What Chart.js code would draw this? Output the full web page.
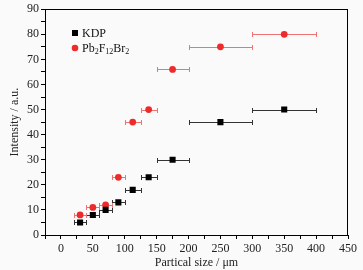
<!DOCTYPE html>
<html>
<head>
<meta charset="utf-8">
<script src="https://cdn.jsdelivr.net/npm/chart.js@4"></script>
<style>
  html, body { margin: 0; padding: 0; background: #fafafa; }
  #wrap { width: 363px; height: 270px; }
</style>
</head>
<body>
<div id="wrap"><canvas id="chart" width="363" height="270"></canvas></div>
<script>
// datos
var kdpX = [30, 50, 70, 90, 112.5, 137.5, 175, 250, 350];
var kdpY = [5, 8, 10, 13, 18, 23, 30, 45, 50];
var pbX = [30, 50, 70, 90, 112.5, 137.5, 175, 250, 350];
var pbY = [8, 11, 12, 23, 45, 50, 66, 75, 80];
var errMin = [20, 40, 60, 80, 100, 125, 150, 200, 300];
var errMax = [40, 60, 80, 100, 125, 150, 200, 300, 400];

var serif = "'Liberation Serif', 'DejaVu Serif', serif";

function puntos(xs, ys) {
    return xs.map(function (x, i) {
        return { x: x, y: ys[i], xMin: errMin[i], xMax: errMax[i] };
    });
}

var fondo = {
    id: 'fondo',
    beforeDraw: function (chart) {
        var ctx = chart.ctx;
        ctx.save();
        ctx.fillStyle = '#fafafa';
        ctx.fillRect(0, 0, chart.width, chart.height);
        ctx.restore();
    }
};

var barras = {
    id: 'barras',
    beforeDatasetsDraw: function (chart) {
        var ctx = chart.ctx;
        var xs = chart.scales.x, ys = chart.scales.y;
        ctx.save();
        chart.data.datasets.forEach(function (ds) {
            ctx.strokeStyle = ds.errorColor;
            ctx.lineWidth = 1;
            ds.data.forEach(function (p) {
                var y = Math.round(ys.getPixelForValue(p.y)) + 0.5;
                var x1 = Math.round(xs.getPixelForValue(p.xMin)) + 0.5;
                var x2 = Math.round(xs.getPixelForValue(p.xMax)) + 0.5;
                ctx.beginPath();
                ctx.moveTo(x1, y); ctx.lineTo(x2, y);
                ctx.moveTo(x1, y - 2.5); ctx.lineTo(x1, y + 2.5);
                ctx.moveTo(x2, y - 2.5); ctx.lineTo(x2, y + 2.5);
                ctx.stroke();
            });
        });
        ctx.restore();
    },
    afterDraw: function (chart) {
        var a = chart.chartArea;
        var ctx = chart.ctx;
        ctx.save();
        ctx.strokeStyle = '#000';
        ctx.lineWidth = 1;
        ctx.strokeRect(Math.round(a.left) + 0.5, Math.round(a.top) + 0.5,
            Math.round(a.right - a.left) - 1, Math.round(a.bottom - a.top));
        ctx.restore();
    }
};

// leyenda con subindices
var leyenda = {
    id: 'leyenda',
    afterDraw: function (chart) {
        var ctx = chart.ctx;
        ctx.save();
        ctx.textBaseline = 'alphabetic';
        ctx.fillStyle = '#000';
        ctx.fillRect(72, 30, 6, 6);
        ctx.font = '12px ' + serif;
        ctx.fillStyle = '#111';
        ctx.fillText('KDP', 82, 37);

        ctx.fillStyle = '#ee2b2b';
        ctx.beginPath();
        ctx.arc(75, 48, 3.3, 0, Math.PI * 2);
        ctx.fill();
        var partes = [['Pb', 0], ['2', 1], ['F', 0], ['12', 1], ['Br', 0], ['2', 1]];
        var x = 82;
        ctx.fillStyle = '#111';
        partes.forEach(function (p) {
            ctx.font = (p[1] ? '8px ' : '12px ') + serif;
            ctx.fillText(p[0], x, p[1] ? 54 : 52);
            x += ctx.measureText(p[0]).width;
        });
        ctx.restore();
    }
};

var canvas = document.getElementById('chart').getContext('2d');
window.grafico = new Chart(canvas, {
    type: 'scatter',
    data: {
        datasets: [{
            label: 'KDP',
            data: puntos(kdpX, kdpY),
            pointStyle: 'rect',
            pointRadius: 4.3,
            pointHoverRadius: 4.3,
            backgroundColor: '#000',
            borderColor: '#000',
            borderWidth: 0,
            errorColor: '#333'
        }, {
            label: 'Pb2F12Br2',
            data: puntos(pbX, pbY),
            pointStyle: 'circle',
            pointRadius: 3.4,
            pointHoverRadius: 3.4,
            backgroundColor: '#ee2b2b',
            borderColor: '#ee2b2b',
            borderWidth: 0,
            errorColor: '#f07272'
        }]
    },
    plugins: [fondo, barras, leyenda],
    options: {
        responsive: false,
        animation: false,
        layout: { padding: { left: 0, right: 15, top: 9, bottom: 0 } },
        plugins: {
            legend: { display: false },
            tooltip: { enabled: false }
        },
        scales: {
            x: {
                type: 'linear',
                min: -25,
                max: 450,
                afterFit: function (s) { s.height = 35; },
                border: { display: false },
                grid: { drawOnChartArea: false, tickLength: 4, color: '#000' },
                ticks: {
                    stepSize: 25,
                    autoSkip: false,
                    maxRotation: 0,
                    padding: 3,
                    color: '#222',
                    font: { family: serif, size: 12 },
                    callback: function (v) { return (v >= 0 && v % 50 === 0) ? v : ''; }
                },
                title: {
                    display: true,
                    text: 'Partical size / μm',
                    color: '#222',
                    font: { family: serif, size: 12 },
                    padding: { top: 0, bottom: 0 }
                }
            },
            y: {
                min: 0,
                max: 90,
                afterFit: function (s) { s.width = 45; },
                border: { display: false },
                grid: { drawOnChartArea: false, tickLength: 4, color: '#000' },
                ticks: {
                    stepSize: 5,
                    autoSkip: false,
                    padding: 2,
                    color: '#222',
                    font: { family: serif, size: 12 },
                    callback: function (v) { return v % 10 === 0 ? v : ''; }
                },
                title: {
                    display: true,
                    text: 'Intensity / a.u.',
                    color: '#222',
                    font: { family: serif, size: 12 },
                    padding: { top: 8, bottom: 0 }
                }
            }
        }
    }
});
</script>
</body>
</html>
